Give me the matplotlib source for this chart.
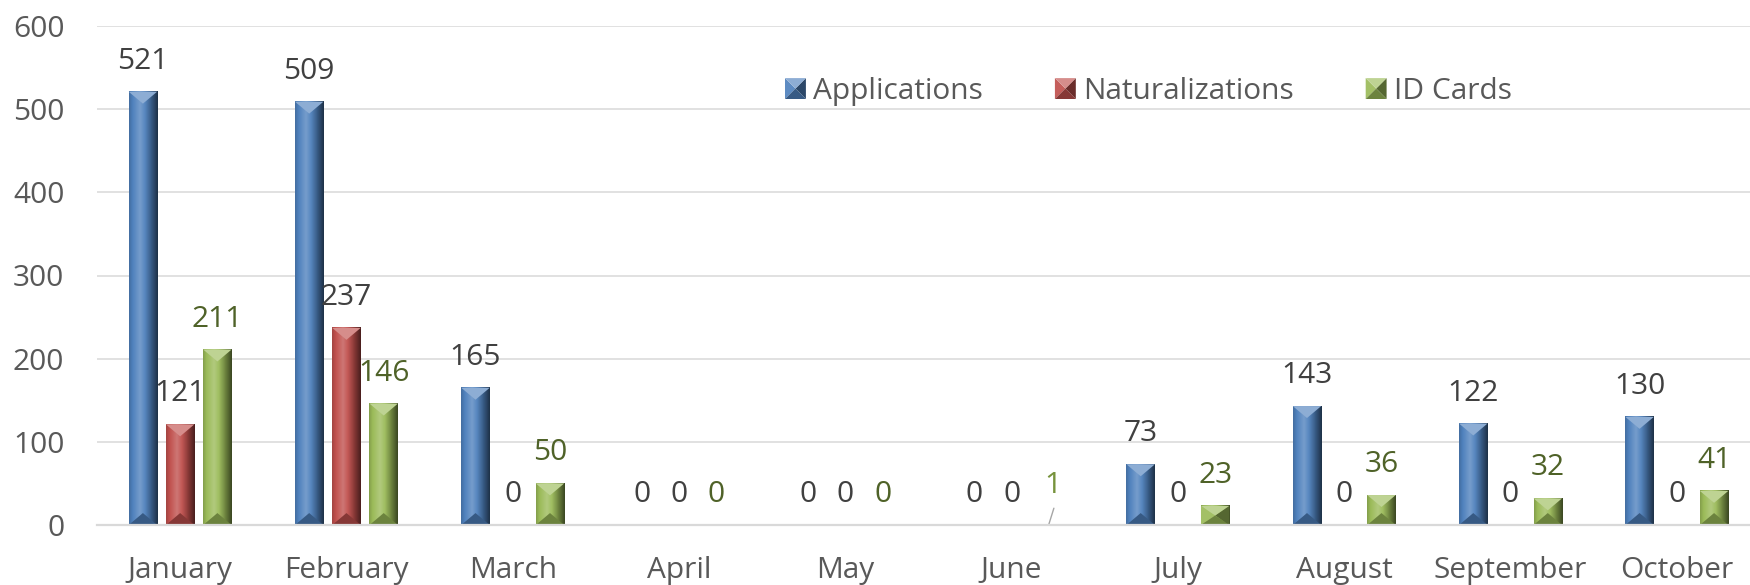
import numpy as np
import matplotlib.pyplot as plt
from matplotlib.patches import Polygon
from matplotlib.colors import to_rgb, LinearSegmentedColormap

plt.rcParams['font.family'] = ['Open Sans', 'DejaVu Sans']

# data
months = ['January', 'February', 'March', 'April', 'May', 'June',
          'July', 'August', 'September', 'October']
applications = [521, 509, 165, 0, 0, 0, 73, 143, 122, 130]
naturalizations = [121, 237, 0, 0, 0, 0, 0, 0, 0, 0]
id_cards = [211, 146, 50, 0, 0, 1, 23, 36, 32, 41]

series_names = ['Applications', 'Naturalizations', 'ID Cards']
series_values = [applications, naturalizations, id_cards]
series_colors = ['#4F81BD', '#C0504D', '#9BBB59']
label_colors = ['#404040', '#404040', '#4F6228']
yticks = [0, 100, 200, 300, 400, 500, 600]

FS = 21.5
TXT = '#595959'


def shade(c, f):
    c = np.array(to_rgb(c))
    if f > 0:
        return tuple(c + (1 - c) * f)
    return tuple(c * (1 + f))


def facets(x0, y0, w, h, d):
    # bevel faces of a box, like the excel "angle" bevel
    cx = x0 + w / 2
    top = [(x0, y0 + h), (x0 + w, y0 + h), (cx, y0 + h - d)]
    bot = [(x0, y0), (x0 + w, y0), (cx, y0 + d)]
    left = [(x0, y0), (x0, y0 + h), (cx, y0 + h - d), (cx, y0 + d)]
    right = [(x0 + w, y0), (x0 + w, y0 + h), (cx, y0 + h - d), (cx, y0 + d)]
    return [(left, 0.08), (right, -0.45), (bot, -0.3), (top, 0.35)]


# horizontal shading across the bar body
profile = [(0.0, -0.15), (0.12, 0.0), (0.38, 0.22), (0.55, 0.05),
           (0.78, -0.3), (1.0, -0.62)]


def body_cmap(c):
    return LinearSegmentedColormap.from_list(
        'b', [(p, shade(c, f)) for p, f in profile])


class BevelHandler:
    def __init__(self, color):
        self.color = color

    def legend_artist(self, legend, orig_handle, fontsize, handlebox):
        x0, y0 = -handlebox.xdescent, -handlebox.ydescent
        w, h = handlebox.width, handlebox.height
        for pts, f in facets(x0, y0, w, h, min(w, h) / 2):
            p = Polygon(pts, closed=True, fc=shade(self.color, f), ec='none',
                        transform=handlebox.get_transform())
            handlebox.add_artist(p)
        return p


fig = plt.figure(figsize=(17.5, 5.85), dpi=100)
ax = fig.add_axes([97 / 1750, 60 / 585, 1 - 97 / 1750, 499 / 585])

x = np.arange(len(months))
width = 0.171
step = 0.224
xlim = (-0.5, 9.44)

ax.set_xlim(*xlim)
ax.set_ylim(0, 600)
ax.set_yticks(yticks)
ax.set_xticks(x)
ax.set_xticklabels(months)

bars = []
for i, vals in enumerate(series_values):
    b = ax.bar(x + (i - 1) * step, vals, width, color=series_colors[i],
               label=series_names[i], zorder=2)
    bars.append(b)

grad = np.linspace(0, 1, 64).reshape(1, -1)
inv = ax.transData.inverted()
for i, b in enumerate(bars):
    cmap = body_cmap(series_colors[i])
    for p in b.patches:
        if p.get_height() <= 0:
            continue
        bx, bw, bh = p.get_x(), p.get_width(), p.get_height()
        ax.imshow(grad, cmap=cmap, aspect='auto', interpolation='bilinear',
                  extent=(bx, bx + bw, 0, bh), zorder=3)
        # top / bottom bevel triangles, sized in pixels
        (px0, py0), (px1, py1) = ax.transData.transform([(bx, 0), (bx + bw, bh)])
        w, h = px1 - px0, py1 - py0
        d = min(0.42 * w, h / 2)
        fc = facets(px0, py0, w, h, d)
        if d >= h / 2 - 0.01:
            # short bar: full pyramid
            parts = fc
        else:
            parts = fc[2:]
        for pts, f in parts:
            ax.add_patch(Polygon(inv.transform(pts), closed=True,
                                 fc=shade(series_colors[i], f), ec='none', zorder=4))

ax.set_xlim(*xlim)
ax.set_ylim(0, 600)

# value labels
for i, vals in enumerate(series_values):
    for j, v in enumerate(vals):
        xc = x[j] + (i - 1) * step
        if i == 2 and months[j] == 'June':
            ax.annotate(str(v), (xc, v), xytext=(3, 22.3), textcoords='offset points',
                        ha='center', va='baseline', fontsize=FS, color='#77933C')
            ax.annotate('', xy=(xc, v), xytext=(3.6, 11.5), textcoords='offset points',
                        arrowprops=dict(arrowstyle='-', color='#A6A6A6', lw=1,
                                        shrinkA=0, shrinkB=0))
            continue
        ax.annotate(str(v), (xc, v), xytext=(0, 16.5), textcoords='offset points',
                    ha='center', va='baseline', fontsize=FS, color=label_colors[i])

ax.yaxis.grid(True, color='#D9D9D9', lw=1.1)
ax.set_axisbelow(True)
for s in ['top', 'left', 'right']:
    ax.spines[s].set_visible(False)
ax.spines['bottom'].set_color('#D9D9D9')
ax.spines['bottom'].set_linewidth(1.6)
ax.spines['bottom'].set_zorder(5)
ax.tick_params(axis='both', length=0, labelsize=FS, labelcolor=TXT)
ax.tick_params(axis='y', pad=23.5)
ax.tick_params(axis='x', pad=22)

ax.legend(bars, series_names, ncol=3, frameon=False, fontsize=FS,
          labelcolor=TXT, loc='center left',
          bbox_to_anchor=(785 / 1750, 1 - 91.5 / 585), bbox_transform=fig.transFigure,
          borderpad=0, borderaxespad=0, handlelength=0.7, handleheight=0.7,
          handletextpad=0.25, columnspacing=2.4,
          handler_map={bars[k]: BevelHandler(series_colors[k]) for k in range(3)})

fig.savefig('out.png', dpi=100)
